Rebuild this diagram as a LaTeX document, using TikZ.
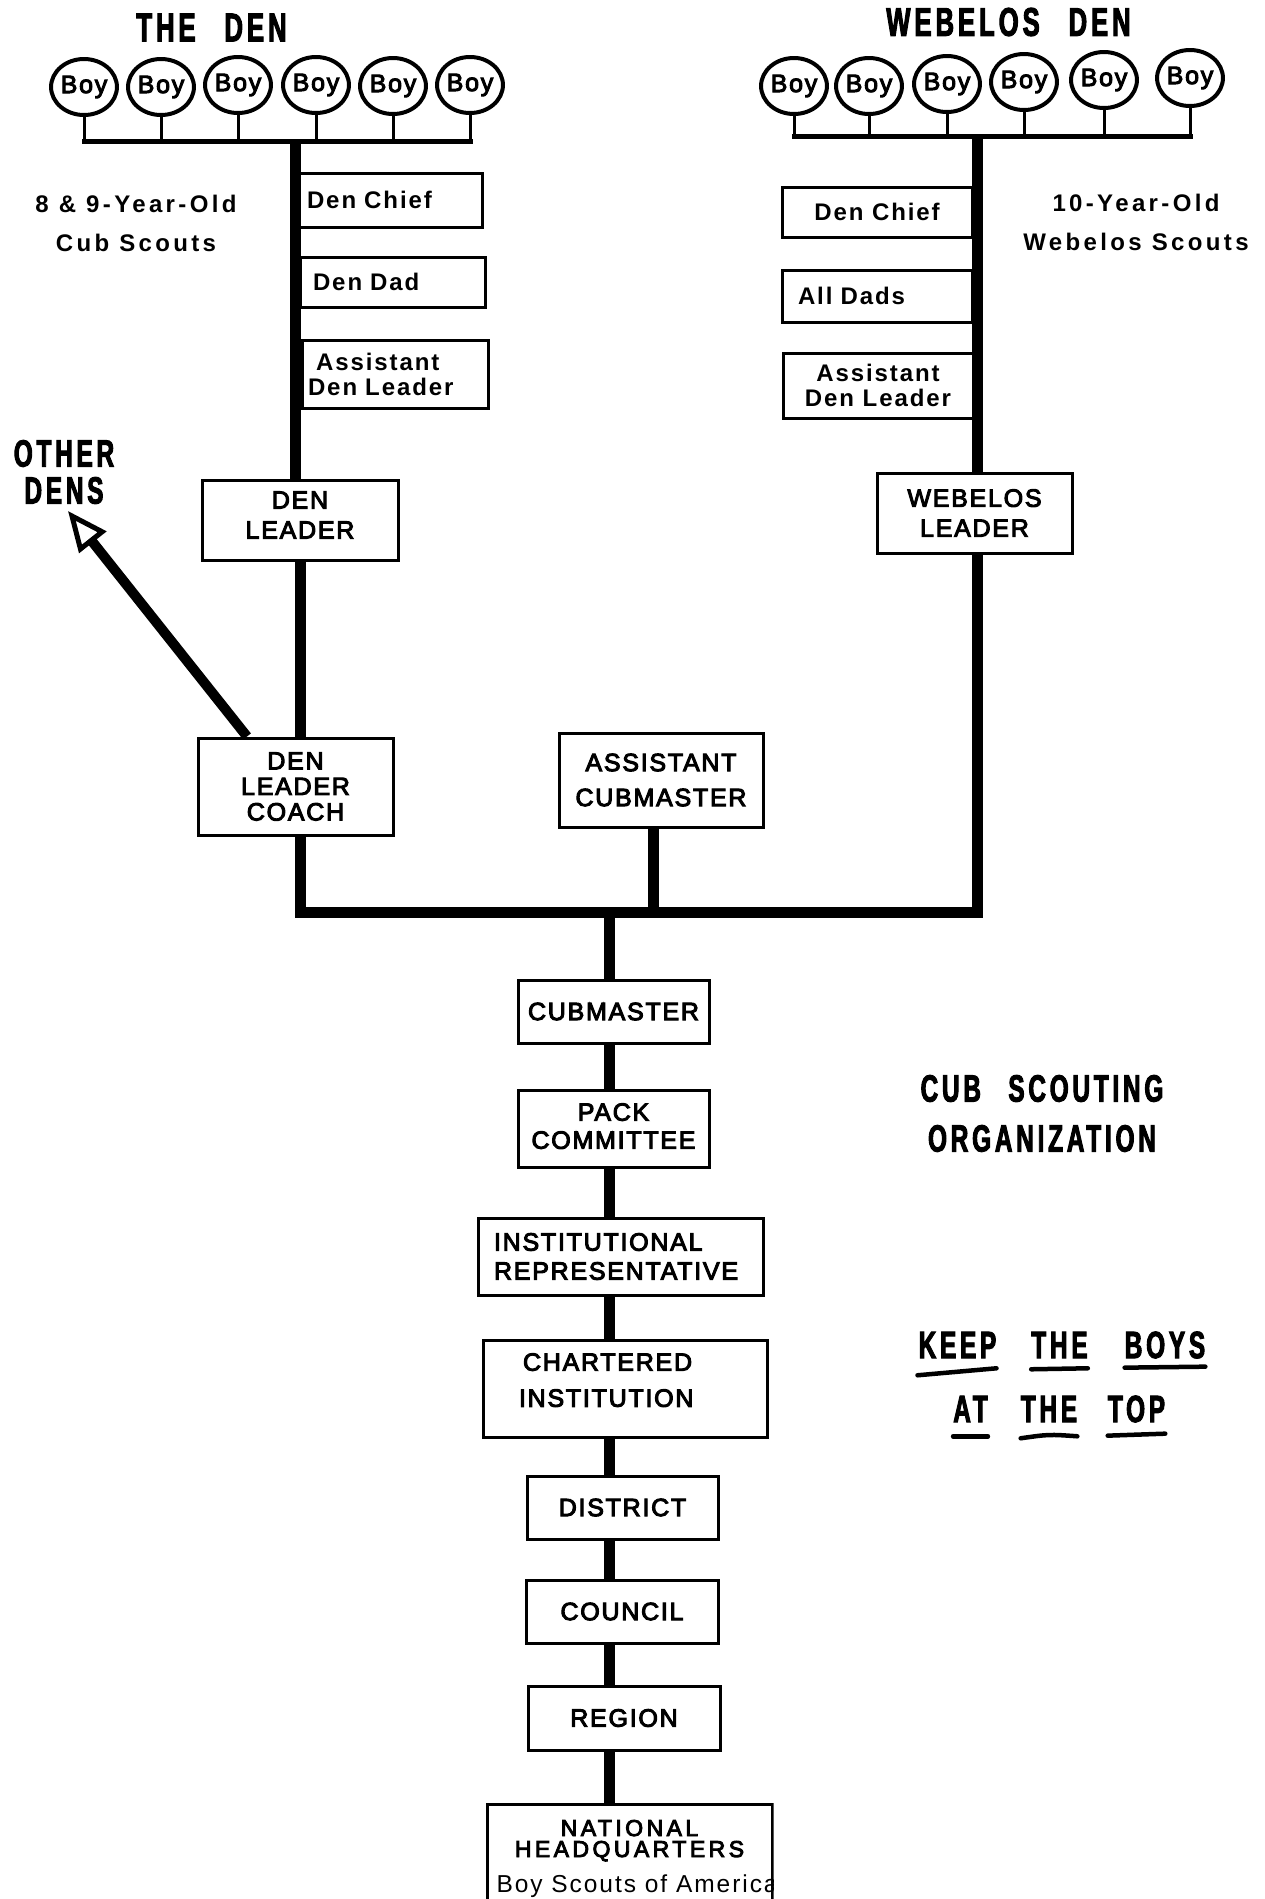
\documentclass[tikz,border=0pt]{standalone}
\usepackage{fontspec}
\setmainfont{Liberation Sans}
\newfontfamily\boxfam[LetterSpace=7,FakeBold=4]{Liberation Sans}
\newfontfamily\widefam[LetterSpace=15,FakeBold=4]{Liberation Sans}
\newfontfamily\mixfam[LetterSpace=8]{Liberation Sans}
\newfontfamily\capfam[LetterSpace=14]{Liberation Sans}
\newfontfamily\headfam[FakeStretch=0.64,LetterSpace=10,WordSpace=2.6,FakeBold=2.5]{Liberation Sans}
\usetikzlibrary{shapes.geometric,arrows.meta,calc}

\newcommand\upfont{\boxfam\fontsize{25}{30}\selectfont}
\newcommand\nhqfont{\widefam\fontsize{23}{30}\selectfont}
\newcommand\mixfont{\mixfam\bfseries\fontsize{24}{25}\selectfont}
\newcommand\capfont{\capfam\bfseries\fontsize{24}{39}\selectfont}
\newcommand\headfont{\headfam\bfseries\fontsize{38}{50}\selectfont}
\newcommand\titlefont{\headfam\bfseries\fontsize{40}{50}\selectfont}
\newcommand\boyfont{\boxfam\fontsize{25}{25}\selectfont}

\tikzset{
  box/.style={draw, line width=3pt, fill=white, inner sep=0pt, align=center},
  up/.style={font=\upfont},
  mix/.style={font=\mixfont},
  boy/.style={ellipse, draw, line width=4pt, fill=white, minimum width=64pt,
              minimum height=56pt, inner sep=0pt, font=\boyfont},
  stem/.style={line width=3pt},
  bar/.style={line width=5pt, line cap=rect},
  trunk/.style={line width=11pt},
  heading/.style={font=\headfont, inner sep=0pt, align=center},
  caption/.style={font=\capfont, inner sep=0pt, align=center},
  uline/.style={line width=4.5pt, line cap=round},
}

\begin{document}
\begin{tikzpicture}[x=1pt, y=-1pt]
\useasboundingbox (0,0) rectangle (1265,1899);

% ---------- titles ----------
\node[heading, font=\titlefont] (tden) at (211.5,27.5) {THE DEN};
\node[heading, font=\titlefont] (tweb) at (1008.5,22) {WEBELOS DEN};

% ---------- the den: boys ----------
\node[boy] (bl1) at (84,87)  {Boy};
\node[boy] (bl2) at (161,87) {Boy};
\node[boy] (bl3) at (238,85) {Boy};
\node[boy] (bl4) at (316,85) {Boy};
\node[boy] (bl5) at (393,86) {Boy};
\node[boy] (bl6) at (470,85) {Boy};
\coordinate (jL) at (295,141);

% ---------- webelos den: boys ----------
\node[boy] (br1) at (794,86)  {Boy};
\node[boy] (br2) at (869,86)  {Boy};
\node[boy] (br3) at (947,84)  {Boy};
\node[boy] (br4) at (1024,82) {Boy};
\node[boy] (br5) at (1104,80) {Boy};
\node[boy] (br6) at (1190,78) {Boy};
\coordinate (jR) at (977,136);

% ---------- side captions ----------
\node[caption] (capL) at (136,223.5) {8 \& 9-Year-Old\\Cub Scouts};
\node[caption] (capR) at (1136,222.5) {10-Year-Old\\Webelos Scouts};

% ---------- den helpers ----------
\node[box, mix, minimum width=184pt, minimum height=54pt, text width=166pt, align=left]
  (dchiefL) at (390,200) {Den Chief};
\node[box, mix, minimum width=185pt, minimum height=50pt, text width=159pt, align=left]
  (ddad) at (392.5,282) {Den Dad};
\node[box, mix, minimum width=186pt, minimum height=68pt, text width=174pt, align=left]
  (adlL) at (395,374) {\hspace*{8pt}Assistant\\Den Leader};

\node[box, mix, minimum width=190pt, minimum height=50pt] (dchiefR) at (877,212) {Den Chief};
\node[box, mix, minimum width=190pt, minimum height=52pt, text width=158pt, align=left]
  (alldads) at (877,296) {All Dads};
\node[box, mix, minimum width=190pt, minimum height=65pt] (adlR) at (878,385.5) {Assistant\\Den Leader};

% ---------- leaders ----------
\node[box, up, minimum width=196pt, minimum height=80pt, text depth=10pt]
  (denleader) at (300,520) {DEN\\LEADER};
\node[box, up, minimum width=195pt, minimum height=80pt] (webleader) at (974.5,513) {WEBELOS\\LEADER};
\node[box, up, minimum width=195pt, minimum height=97pt]
  (coach) at (295.5,786.5) {DEN\\[-4.5pt]LEADER\\[-4.5pt]COACH};
\node[box, up, minimum width=204pt, minimum height=94pt]
  (asstcm) at (661,780) {ASSISTANT\\[5pt]CUBMASTER};

% ---------- pack and council chain ----------
\node[box, up, minimum width=191pt, minimum height=63pt] (cubmaster) at (613.5,1011.5) {CUBMASTER};
\node[box, up, minimum width=191pt, minimum height=77pt, text depth=5pt]
  (pack) at (613.5,1128.5) {PACK\\[-2pt]COMMITTEE};
\node[box, up, minimum width=285pt, minimum height=77pt, text width=253pt, align=left]
  (instrep) at (620.5,1256.5) {INSTITUTIONAL\\[-1pt]REPRESENTATIVE};
\node[box, up, minimum width=284pt, minimum height=97pt, text width=212pt, align=left, text depth=53pt]
  (chartered) at (625,1388.5) {\hspace*{4pt}CHARTERED\\[6pt]INSTITUTION};
\node[box, up, minimum width=191pt, minimum height=63pt] (district) at (622.5,1507.5) {DISTRICT};
\node[box, up, minimum width=192pt, minimum height=63pt] (council) at (622,1611.5) {COUNCIL};
\node[box, up, minimum width=192pt, minimum height=64pt] (region) at (624,1718) {REGION};
\begin{scope}
  \clip (485.5,1802.5) rectangle (773.5,1902);
  \node[box, font=\nhqfont, minimum width=285pt, minimum height=96pt, text height=88pt, text depth=8pt]
    (nhq) at (629.5,1852)
    {NATIONAL\\[-9pt]HEADQUARTERS\\[5pt]\makebox[266pt][l]{\mixfam\fontsize{24.5}{25}\selectfont Boy Scouts of America}};
\end{scope}

% ---------- boy stems and den bars ----------
\foreach \b in {bl1,bl2,bl3,bl4,bl5,bl6}
  \draw[stem] (\b.south) -- (\b.south |- jL);
\draw[bar] (bl1.south |- jL) -- (bl6.south |- jL);
\foreach \b in {br1,br2,br3,br4,br5,br6}
  \draw[stem] (\b.south) -- (\b.south |- jR);
\draw[bar] (br1.south |- jR) -- (br6.south |- jR);

% ---------- trunks ----------
\coordinate (bl) at (300,912);
\coordinate (br) at (977,912);
\coordinate (cm) at (609,912);
\coordinate (acs) at ([xshift=-8pt]asstcm.south);
\draw[trunk] (jL) -- (jL |- denleader.north);
\draw[trunk] (denleader.south) -- (denleader.south |- coach.north);
\draw[trunk] (jR) -- (jR |- webleader.north);
\draw[trunk, line join=miter] (jR |- webleader.south) -- (br) -- (bl) -- (bl |- coach.south);
\draw[trunk] (acs) -- (acs |- bl);
\draw[trunk] (cm) -- (cm |- cubmaster.north);
\draw[trunk] (cubmaster.south -| cm) -- (cm |- pack.north);
\draw[trunk] (pack.south -| cm) -- (cm |- instrep.north);
\draw[trunk] (instrep.south -| cm) -- (cm |- chartered.north);
\draw[trunk] (chartered.south -| cm) -- (cm |- district.north);
\draw[trunk] (district.south -| cm) -- (cm |- council.north);
\draw[trunk] (council.south -| cm) -- (cm |- region.north);
\draw[trunk] (region.south -| cm) -- (cm |- nhq.north);

% ---------- other dens ----------
\node[heading] (others) at (64,472) {OTHER\\[-13pt]DENS};
\coordinate (otip) at (68,511);
\coordinate (oa) at ([xshift=-48.5pt]coach.north);
\draw[line width=10pt, -{Triangle[open, length=40pt 0, width=34pt 0, line width=5pt 0]}] (oa) -- (otip);

% ---------- right-hand headings ----------
\node[heading] (cso) at (1042,1113.5) {CUB SCOUTING\\ORGANIZATION};
\node[heading] (wkeep) at (957.5,1345) {KEEP};
\node[heading] (wthea) at (1059.5,1345) {THE};
\node[heading] (wboys) at (1165,1345) {BOYS};
\node[heading] (wat) at (970.5,1409) {AT};
\node[heading] (wtheb) at (1049,1409) {THE};
\node[heading] (wtop) at (1136.5,1409) {TOP};

\draw[uline] ($(wkeep.south west)+(-1,17)$) .. controls ($(wkeep.south)+(0,14)$) .. ($(wkeep.south east)+(0,10)$);
\draw[uline] ($(wthea.south west)+(0,11)$) -- ($(wthea.south east)+(0,10)$);
\draw[uline] ($(wboys.south west)+(0,9)$) -- ($(wboys.south east)+(0,8)$);
\draw[uline] ($(wat.south west)+(0,14)$) -- ($(wat.south east)+(0,14)$);
\draw[uline] ($(wtheb.south west)+(0,16)$) .. controls ($(wtheb.south)+(0,12)$) .. ($(wtheb.south east)+(0,14)$);
\draw[uline] ($(wtop.south west)+(0,13)$) -- ($(wtop.south east)+(0,11)$);
\end{tikzpicture}
\end{document}
